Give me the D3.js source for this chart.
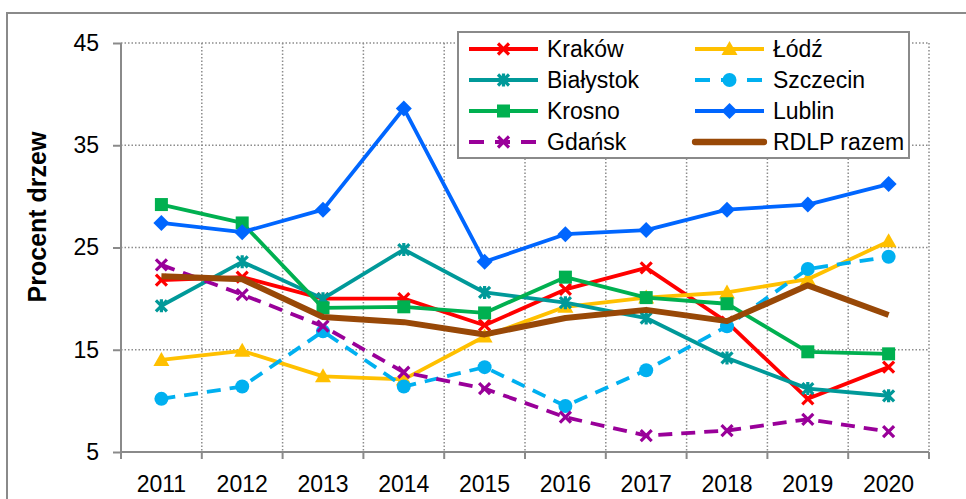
<!DOCTYPE html>
<html>
<head>
<meta charset="utf-8">
<script src="https://cdn.jsdelivr.net/npm/d3@7/dist/d3.min.js"></script>
<style>
  html, body { margin: 0; padding: 0; background: #fff; }
  svg { display: block; font-family: "Liberation Sans", Arial, sans-serif; }
</style>
</head>
<body>
<svg id="chart" width="966" height="499"></svg>
<script>
// Years on the category axis
const years = ["2011", "2012", "2013", "2014", "2015", "2016", "2017", "2018", "2019", "2020"];
const yTicks = [5, 15, 25, 35, 45];

// Percentage of trees per forest district (RDLP)
const krakow    = [21.8, 22.1, 20.0, 20.0, 17.4, 20.9, 23.0, 17.7, 10.2, 13.3];
const lodz      = [14.0, 14.9, 12.4, 12.1, 16.3, 19.2, 20.1, 20.6, 21.9, 25.6];
const bialystok = [19.3, 23.6, 20.0, 24.8, 20.6, 19.6, 18.1, 14.2, 11.2, 10.5];
const szczecin  = [10.2, 11.4, 16.8, 11.4, 13.3, 9.5, 13.0, 17.3, 22.9, 24.1];
const krosno    = [29.2, 27.4, 19.1, 19.2, 18.6, 22.1, 20.1, 19.5, 14.8, 14.6];
const lublin    = [27.4, 26.5, 28.7, 38.6, 23.6, 26.3, 26.7, 28.7, 29.2, 31.2];
const gdansk    = [23.3, 20.4, 17.3, 12.8, 11.2, 8.4, 6.6, 7.1, 8.2, 7.0];
const razem     = [22.2, 21.9, 18.2, 17.7, 16.5, 18.1, 18.9, 17.8, 21.3, 18.4];

const series = [
  { name: "Kraków",     values: krakow,    color: "#FF0000", marker: "x",        dash: null,   width: 3.8 },
  { name: "Łódź",       values: lodz,      color: "#FFC000", marker: "triangle", dash: null,   width: 3.8 },
  { name: "Białystok",  values: bialystok, color: "#009999", marker: "star",     dash: null,   width: 3.8 },
  { name: "Szczecin",   values: szczecin,  color: "#00B0F0", marker: "circle",   dash: "14,9", width: 3.8 },
  { name: "Krosno",     values: krosno,    color: "#00B050", marker: "square",   dash: null,   width: 3.8 },
  { name: "Lublin",     values: lublin,    color: "#0066FF", marker: "diamond",  dash: null,   width: 3.8 },
  { name: "Gdańsk",     values: gdansk,    color: "#990099", marker: "x",        dash: "14,9", width: 3.8 },
  { name: "RDLP razem", values: razem,     color: "#984807", marker: null,       dash: null,   width: 6 }
];

const svg = d3.select("#chart");
const axisGray = "#8a8a8a";

// outer frame
svg.append("rect")
  .attr("x", 7).attr("y", 13).attr("width", 970).attr("height", 500)
  .attr("fill", "none").attr("stroke", axisGray).attr("stroke-width", 2);

const plot = { left: 121, right: 929, top: 43, bottom: 452 };

const x = d3.scaleBand().domain(years).range([plot.left, plot.right]);
const y = d3.scaleLinear().domain([5, 45]).range([plot.bottom, plot.top]);
const cx = d => x(d) + x.bandwidth() / 2;

// gridlines
const grid = svg.append("g");
grid.selectAll("line.h").data(yTicks.filter(t => t > 5)).join("line")
  .attr("x1", plot.left).attr("x2", plot.right)
  .attr("y1", d => y(d)).attr("y2", d => y(d))
  .attr("stroke", "#8c8c8c").attr("stroke-width", 1.5).attr("stroke-dasharray", "1.5,2");
grid.selectAll("line.v").data(years.slice(1).concat(["end"])).join("line")
  .attr("x1", (d, i) => plot.left + (i + 1) * x.bandwidth())
  .attr("x2", (d, i) => plot.left + (i + 1) * x.bandwidth())
  .attr("y1", plot.top).attr("y2", plot.bottom)
  .attr("stroke", "#8c8c8c").attr("stroke-width", 1.5).attr("stroke-dasharray", "1.5,2");

// y axis
const yAxis = svg.append("g")
  .attr("transform", `translate(${plot.left},0)`)
  .call(d3.axisLeft(y).tickValues(yTicks).tickSize(8).tickPadding(14));
yAxis.select(".domain").attr("stroke", axisGray).attr("stroke-width", 2)
  .attr("d", `M0,${plot.top}V${plot.bottom + 7}`);
yAxis.selectAll(".tick line").attr("stroke", axisGray).attr("stroke-width", 2);
yAxis.selectAll(".tick text").attr("font-size", 23).attr("fill", "#000")
  .attr("font-family", "Liberation Sans, Arial, sans-serif");

// x axis: ticks sit on category boundaries
const xAxis = svg.append("g").attr("transform", `translate(0,${plot.bottom})`);
xAxis.append("line").attr("x1", plot.left).attr("x2", plot.right)
  .attr("stroke", axisGray).attr("stroke-width", 2);
xAxis.selectAll("line.tk").data(d3.range(years.length + 1)).join("line")
  .attr("x1", i => plot.left + i * x.bandwidth())
  .attr("x2", i => plot.left + i * x.bandwidth())
  .attr("y1", 0).attr("y2", 7)
  .attr("stroke", axisGray).attr("stroke-width", 2);
xAxis.selectAll("text").data(years).join("text")
  .attr("x", d => cx(d)).attr("y", 40)
  .attr("text-anchor", "middle").attr("font-size", 23).attr("fill", "#000")
  .text(d => d);

// y axis title
svg.append("text")
  .attr("transform", "translate(46,217) rotate(-90)")
  .attr("text-anchor", "middle").attr("font-size", 25).attr("font-weight", "bold")
  .text("Procent drzew");

// marker shapes
function drawMarker(g, type, color, px, py, size) {
  const s = size || 1;
  if (type === "square") {
    g.append("rect").attr("x", px - 6.5 * s).attr("y", py - 6.5 * s)
      .attr("width", 13 * s).attr("height", 13 * s).attr("fill", color);
  } else if (type === "diamond") {
    const r = 8 * s;
    g.append("path").attr("d", `M${px},${py - r}L${px + r},${py}L${px},${py + r}L${px - r},${py}Z`).attr("fill", color);
  } else if (type === "triangle") {
    const r = 8 * s;
    g.append("path").attr("d", `M${px},${py - r}L${px + r},${py + r * 0.75}L${px - r},${py + r * 0.75}Z`).attr("fill", color);
  } else if (type === "circle") {
    g.append("circle").attr("cx", px).attr("cy", py).attr("r", 7 * s).attr("fill", color);
  } else if (type === "x" || type === "star") {
    const r = 5.5 * s;
    const p = `M${px - r},${py - r}L${px + r},${py + r}M${px - r},${py + r}L${px + r},${py - r}` +
      (type === "star" ? `M${px},${py - r - 1}L${px},${py + r + 1}` : "");
    g.append("path").attr("d", p).attr("stroke", color).attr("stroke-width", 3.2).attr("fill", "none");
  }
}

const line = d3.line().x((d, i) => cx(years[i])).y(d => y(d));

const marks = svg.append("g");
series.forEach(s => {
  const g = marks.append("g");
  g.append("path").datum(s.values).attr("d", line)
    .attr("fill", "none").attr("stroke", s.color).attr("stroke-width", s.width)
    .attr("stroke-dasharray", s.dash).attr("stroke-linejoin", "round");
  if (s.marker) s.values.forEach((v, i) => drawMarker(g, s.marker, s.color, cx(years[i]), y(v)));
});

// legend
const legend = svg.append("g");
legend.append("rect").attr("x", 458).attr("y", 32).attr("width", 451).attr("height", 126)
  .attr("fill", "#fff").attr("stroke", axisGray).attr("stroke-width", 2);
const legendOrder = ["Kraków", "Białystok", "Krosno", "Gdańsk", "Łódź", "Szczecin", "Lublin", "RDLP razem"];
legendOrder.forEach((name, k) => {
  const s = series.find(d => d.name === name);
  const col = Math.floor(k / 4), row = k % 4;
  const x0 = col === 0 ? 469 : 695;
  const ly = 49 + row * 31;
  const g = legend.append("g");
  g.append("line").attr("x1", x0).attr("x2", x0 + 69).attr("y1", ly).attr("y2", ly)
    .attr("stroke", s.color).attr("stroke-width", s.width + 0.3)
    .attr("stroke-dasharray", s.dash ? "15,11" : null)
    .attr("stroke-linecap", s.marker ? "butt" : "round");
  if (s.marker) drawMarker(g, s.marker, s.color, x0 + 34.5, ly);
  g.append("text").attr("x", x0 + 78).attr("y", ly + 8)
    .attr("font-size", 23).attr("fill", "#000").text(name);
});
</script>
</body>
</html>
